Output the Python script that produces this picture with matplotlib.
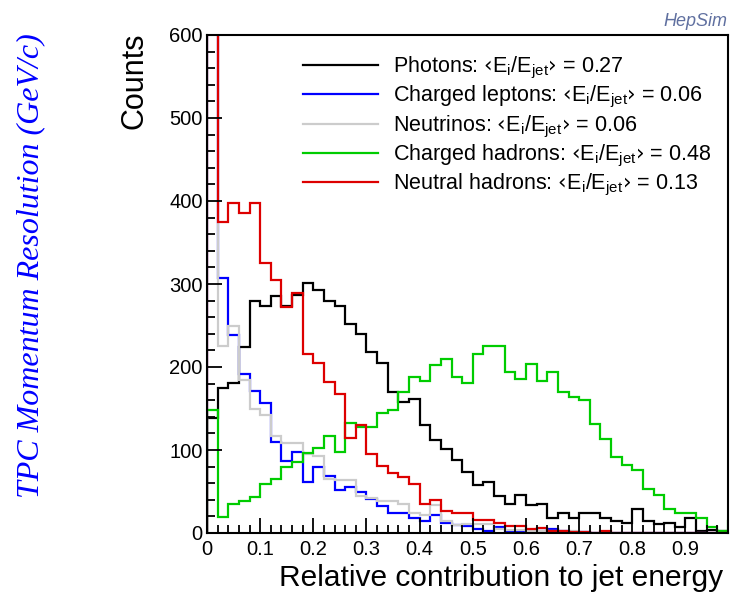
import numpy as np
import matplotlib
matplotlib.use("Agg")
from matplotlib import pyplot as plt
from matplotlib.lines import Line2D
from matplotlib.ticker import MultipleLocator

plt.rcParams['font.family'] = ['Liberation Sans', 'DejaVu Sans']
plt.rcParams['mathtext.default'] = 'regular'

# histogram edges: 50 bins of 0.02 in [0, 1]
bin_edges = np.round(np.arange(0, 1.0001, 0.02), 2)

photons = [139, 175, 181, 224, 279, 273, 285, 273, 287, 301,
           293, 279, 273, 252, 240, 218, 205, 170, 158, 161,
           130, 112, 101, 88, 73, 58, 62, 45, 35, 46,
           34, 35, 18, 24, 18, 24, 24, 18, 14, 12,
           29, 14, 11, 12, 7, 18, 2, 4, 2, 2]
charged_leptons = [700, 307, 238, 191, 171, 157, 110, 87, 98, 62,
                   79, 69, 52, 56, 50, 41, 33, 24, 24, 18,
                   14, 22, 12, 10, 8, 5, 3, 7, 3, 2,
                   2, 3, 5, 2, 1, 1, 0, 0, 0, 0,
                   0, 0, 0, 0, 0, 0, 0, 0, 0, 0]
neutrinos = [700, 225, 249, 184, 150, 142, 117, 108, 108, 95,
             93, 65, 64, 64, 44, 42, 38, 39, 35, 24,
             22, 34, 14, 10, 11, 11, 11, 5, 4, 4,
             3, 3, 3, 2, 2, 1, 0, 0, 0, 0,
             0, 0, 0, 0, 0, 0, 0, 0, 0, 0]
charged_hadrons = [148, 19, 35, 38, 43, 59, 65, 79, 85, 96,
                   102, 117, 98, 133, 128, 128, 144, 148, 170, 188,
                   183, 202, 210, 188, 181, 216, 225, 225, 194, 185,
                   204, 183, 194, 170, 164, 160, 131, 113, 91, 82,
                   76, 53, 46, 29, 24, 24, 18, 7, 3, 14]
neutral_hadrons = [620, 375, 398, 385, 398, 325, 305, 272, 289, 216,
                   205, 182, 168, 114, 130, 95, 81, 72, 68, 59,
                   35, 40, 26, 24, 24, 16, 16, 12, 8, 8,
                   5, 6, 2, 2, 1, 1, 0, 2, 0, 0,
                   0, 0, 0, 0, 0, 0, 0, 0, 0, 0]

series = [photons, charged_leptons, neutrinos, charged_hadrons, neutral_hadrons]
names = ["Photons", "Charged leptons", "Neutrinos", "Charged hadrons", "Neutral hadrons"]
mean_fractions = ["0.27", "0.06", "0.06", "0.48", "0.13"]
colors = ["#000000", "#0000ff", "#cccccc", "#00cc00", "#dd0000"]

xtick_values = [0.0, 0.1, 0.2, 0.3, 0.4, 0.5, 0.6, 0.7, 0.8, 0.9]
xtick_labels = ["0", "0.1", "0.2", "0.3", "0.4", "0.5", "0.6", "0.7", "0.8", "0.9"]

fig = plt.figure(figsize=(7.31, 6.0), dpi=100)
ax = fig.add_axes([207 / 731, 67 / 600, 521 / 731, 498 / 600])

for values, color in zip(series, colors):
    ax.stairs(values, bin_edges, color=color, linewidth=1.6)

ax.set_xlim(0, 0.98)
ax.set_ylim(0, 600)

ax.set_xticks(xtick_values)
ax.set_xticklabels(xtick_labels)
ax.xaxis.set_minor_locator(MultipleLocator(0.02))
ax.yaxis.set_major_locator(MultipleLocator(100))
ax.yaxis.set_minor_locator(MultipleLocator(20))
ax.tick_params(which='both', direction='in', top=False, right=False, width=1.3, labelsize=14.5)
ax.tick_params(which='major', length=11)
ax.tick_params(which='minor', length=5.5)
ax.tick_params(axis='x', pad=5)
ax.tick_params(axis='y', pad=3)
for spine in ax.spines.values():
    spine.set_linewidth(1.5)

ax.set_xlabel("Relative contribution to jet energy", fontsize=21.5, loc='right')
ax.set_ylabel("Counts", fontsize=22, loc='top')
ax.xaxis.set_label_coords(0.99, -0.062)
ax.yaxis.set_label_coords(-0.11, 1.006)

handles = [Line2D([], [], color=c, linewidth=1.6) for c in colors]
labels = [f"{n}: ‹E$_{{i}}$/E$_{{jet}}$› = {m}" for n, m in zip(names, mean_fractions)]
ax.legend(handles, labels, loc='upper left', bbox_to_anchor=(0.184, 0.96), frameon=False,
          fontsize=15.5, handlelength=3.5, handletextpad=0.7, labelspacing=0.15,
          borderpad=0, borderaxespad=0)

fig.text(727 / 731, 1 - 21 / 600, "HepSim", ha='right', va='center', fontsize=13,
         style='italic', color='#6070a0')
fig.text(31 / 731, 1 - 266 / 600, "TPC Momentum Resolution (GeV/c)", rotation=90,
         ha='center', va='center', fontsize=23, style='italic', color='#0000ff',
         family='Liberation Serif')

fig.savefig("out.png", dpi=100)
